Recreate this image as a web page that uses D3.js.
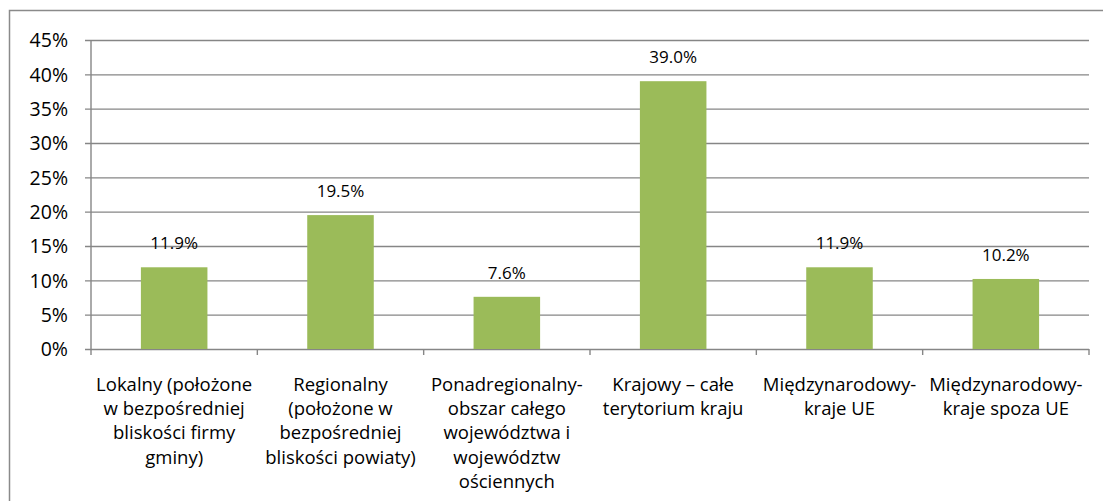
<!DOCTYPE html>
<html><head><meta charset="utf-8">
<script src="https://cdn.jsdelivr.net/npm/d3@7"></script>
<style>
  body { margin: 0; background: #fff; }
  text { font-family: "Open Sans", sans-serif; fill: #000; }
</style>
</head>
<body>
<svg id="chart" width="1103" height="501"></svg>
<script>
// Zasięg rynku zbytu – udział firm (%)
const categories = [
  ["Lokalny (położone", "w bezpośredniej", "bliskości firmy", "gminy)"],
  ["Regionalny", "(położone w", "bezpośredniej", "bliskości powiaty)"],
  ["Ponadregionalny-", "obszar całego", "województwa i", "województw", "ościennych"],
  ["Krajowy – całe", "terytorium kraju"],
  ["Międzynarodowy-", "kraje UE"],
  ["Międzynarodowy-", "kraje spoza UE"]
];
const values = [11.9, 19.5, 7.6, 39.0, 11.9, 10.2];
const yTicks = [0, 5, 10, 15, 20, 25, 30, 35, 40, 45];

const svg = d3.select("#chart");
const gridColor = "#868686";
const barColor = "#9BBB59";

// outer chart frame (runs past the right and bottom edges)
svg.append("rect")
  .attr("x", 9.5).attr("y", 10.5)
  .attr("width", 1200).attr("height", 600)
  .attr("fill", "none").attr("stroke", "#8a8a8a").attr("stroke-width", 1.5);

const plot = { left: 91, right: 1089, top: 40, bottom: 349 };

const x = d3.scaleBand()
  .domain(d3.range(categories.length))
  .range([plot.left, plot.right])
  .paddingInner(0.6).paddingOuter(0.3);

const y = d3.scaleLinear().domain([0, 45]).range([plot.bottom, plot.top]);

// horizontal gridlines with short outer ticks
const yAxis = d3.axisLeft(y).tickValues(yTicks).tickSize(-(plot.right - plot.left)).tickPadding(0).tickFormat(d => d + "%");
const gy = svg.append("g").attr("transform", `translate(${plot.left},0)`).call(yAxis);
gy.select(".domain").remove();
gy.selectAll(".tick line")
  .attr("x1", -6)
  .attr("stroke", gridColor).attr("stroke-width", 1.4);
gy.selectAll(".tick text")
  .attr("x", -23).attr("dy", "0.35em")
  .attr("font-size", 19.5).attr("font-family", "Open Sans").attr("fill", "#000");

// bars
svg.append("g").selectAll("rect")
  .data(values)
  .join("rect")
  .attr("x", (d, i) => x(i))
  .attr("y", d => y(d))
  .attr("width", x.bandwidth())
  .attr("height", d => y(0) - y(d))
  .attr("fill", barColor);

// value labels
svg.append("g").selectAll("text")
  .data(values)
  .join("text")
  .attr("x", (d, i) => x(i) + x.bandwidth() / 2)
  .attr("y", d => y(d) - 18)
  .attr("text-anchor", "middle")
  .attr("font-size", 17)
  .text(d => d.toFixed(1) + "%");

// vertical axis line
svg.append("line")
  .attr("x1", plot.left).attr("x2", plot.left)
  .attr("y1", y(45)).attr("y2", y(0))
  .attr("stroke", gridColor).attr("stroke-width", 1.4);

// category tick marks at band boundaries
const step = x.step();
const boundaries = d3.range(categories.length + 1).map(i => plot.left + i * step);
svg.append("g").selectAll("line")
  .data(boundaries)
  .join("line")
  .attr("x1", d => d).attr("x2", d => d)
  .attr("y1", y(0)).attr("y2", y(0) + 6)
  .attr("stroke", gridColor).attr("stroke-width", 1.4);

// category labels (multi-line)
const lab = svg.append("g").selectAll("text")
  .data(categories)
  .join("text")
  .attr("x", (d, i) => x(i) + x.bandwidth() / 2)
  .attr("y", 391)
  .attr("text-anchor", "middle")
  .attr("font-size", 18.5);
lab.selectAll("tspan")
  .data(d => d)
  .join("tspan")
  .attr("x", function () { return d3.select(this.parentNode).attr("x"); })
  .attr("dy", (d, i) => i === 0 ? 0 : 24.2)
  .text(d => d);
</script>
</body></html>
